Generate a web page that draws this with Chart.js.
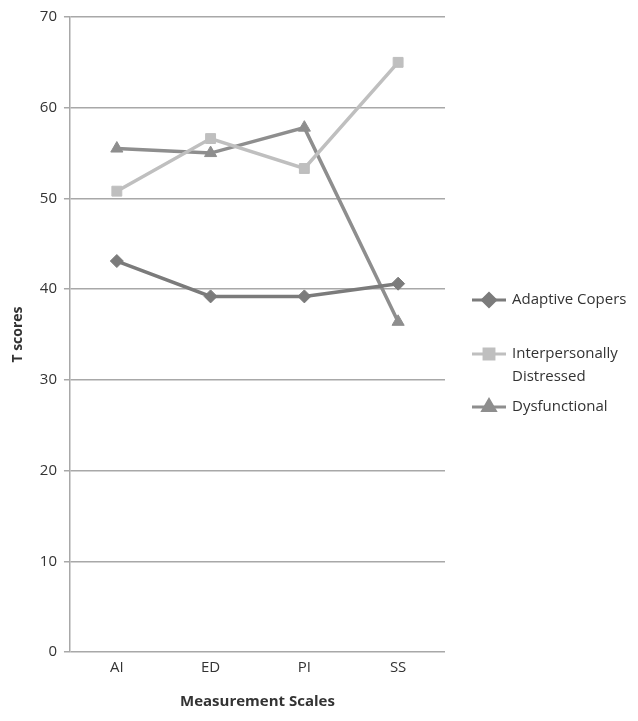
<!DOCTYPE html>
<html>
<head>
<meta charset="utf-8">
<script src="https://cdn.jsdelivr.net/npm/chart.js@4/dist/chart.umd.min.js"></script>
<style>
html,body{margin:0;padding:0;background:#fff;}
#wrap{width:638px;height:721px;position:relative;}
</style>
</head>
<body>
<div id="wrap"><canvas id="c" width="638" height="721"></canvas></div>
<script>
const categories = ["AI", "ED", "PI", "SS"];
const adaptiveCopers = [43.1, 39.2, 39.2, 40.6];
const interpersonallyDistressed = [50.8, 56.6, 53.3, 65.0];
const dysfunctional = [55.5, 55.0, 57.8, 36.4];
const seriesNames = ["Adaptive Copers", ["Interpersonally", "Distressed"], "Dysfunctional"];
const yTicks = [0, 10, 20, 30, 40, 50, 60, 70];

const FONT = "'Open Sans', 'Liberation Sans', sans-serif";
const colors = ["#7b7b7b", "#bfbfbf", "#8e8e8e"];
const styles = ["rectRot", "rect", "triangle"];
const radii = [6.5, 7, 7];

const legendPlugin = {
  id: 'sideLegend',
  afterDraw(chart) {
    const ctx = chart.ctx;
    const ca = chart.chartArea;
    const x0 = ca.right + 27;
    const ys = [300, 354, 407];
    ctx.save();
    ctx.font = "15px " + FONT;
    ctx.textBaseline = "middle";
    chart.data.datasets.forEach((ds, i) => {
      const y = ys[i];
      ctx.strokeStyle = ds.borderColor;
      ctx.lineWidth = 3;
      ctx.beginPath();
      ctx.moveTo(x0, y);
      ctx.lineTo(x0 + 34, y);
      ctx.stroke();
      Chart.helpers.drawPoint(ctx, {pointStyle: ds.pointStyle, radius: ds.pointRadius, borderWidth: 1}, x0 + 17, y);
      ctx.fillStyle = ds.borderColor;
      ctx.fill();
      ctx.fillStyle = "#333";
      const lines = Array.isArray(seriesNames[i]) ? seriesNames[i] : [seriesNames[i]];
      lines.forEach((t, k) => ctx.fillText(t, x0 + 40, y + k * 23));
    });
    ctx.restore();
  }
};

const datasets = [adaptiveCopers, interpersonallyDistressed, dysfunctional].map((d, i) => ({
  label: Array.isArray(seriesNames[i]) ? seriesNames[i].join(" ") : seriesNames[i],
  data: d,
  borderColor: colors[i],
  backgroundColor: colors[i],
  pointBackgroundColor: colors[i],
  pointBorderColor: colors[i],
  pointStyle: styles[i],
  pointRadius: radii[i],
  pointBorderWidth: 1,
  borderWidth: 3.5,
  tension: 0,
  fill: false
}));

new Chart(document.getElementById('c'), {
  type: 'line',
  data: { labels: categories, datasets },
  plugins: [legendPlugin],
  options: {
    responsive: false,
    animation: false,
    layout: { padding: { top: 17, right: 193, left: 6, bottom: 6 } },
    plugins: { legend: { display: false }, tooltip: { enabled: false } },
    scales: {
      x: {
        offset: true,
        grid: { display: false, drawTicks: false },
        border: { display: false },
        ticks: { color: "#333", font: { family: FONT, size: 15 }, padding: 7 },
        title: { display: true, text: "Measurement Scales", color: "#333", font: { family: FONT, size: 15, weight: "bold" }, padding: { top: 9 } }
      },
      y: {
        min: 0, max: 70,
        afterBuildTicks(axis) { axis.ticks = yTicks.map(v => ({ value: v })); },
        grid: { color: "#a8a8a8", lineWidth: 1.5, tickLength: 6, drawTicks: true },
        border: { display: true, color: "#a8a8a8", width: 1.5 },
        ticks: { color: "#333", font: { family: FONT, size: 15 }, padding: 7 },
        title: { display: true, text: "T scores", color: "#333", font: { family: FONT, size: 14, weight: "bold" }, padding: { bottom: 6 } }
      }
    }
  }
});
</script>
</body>
</html>
